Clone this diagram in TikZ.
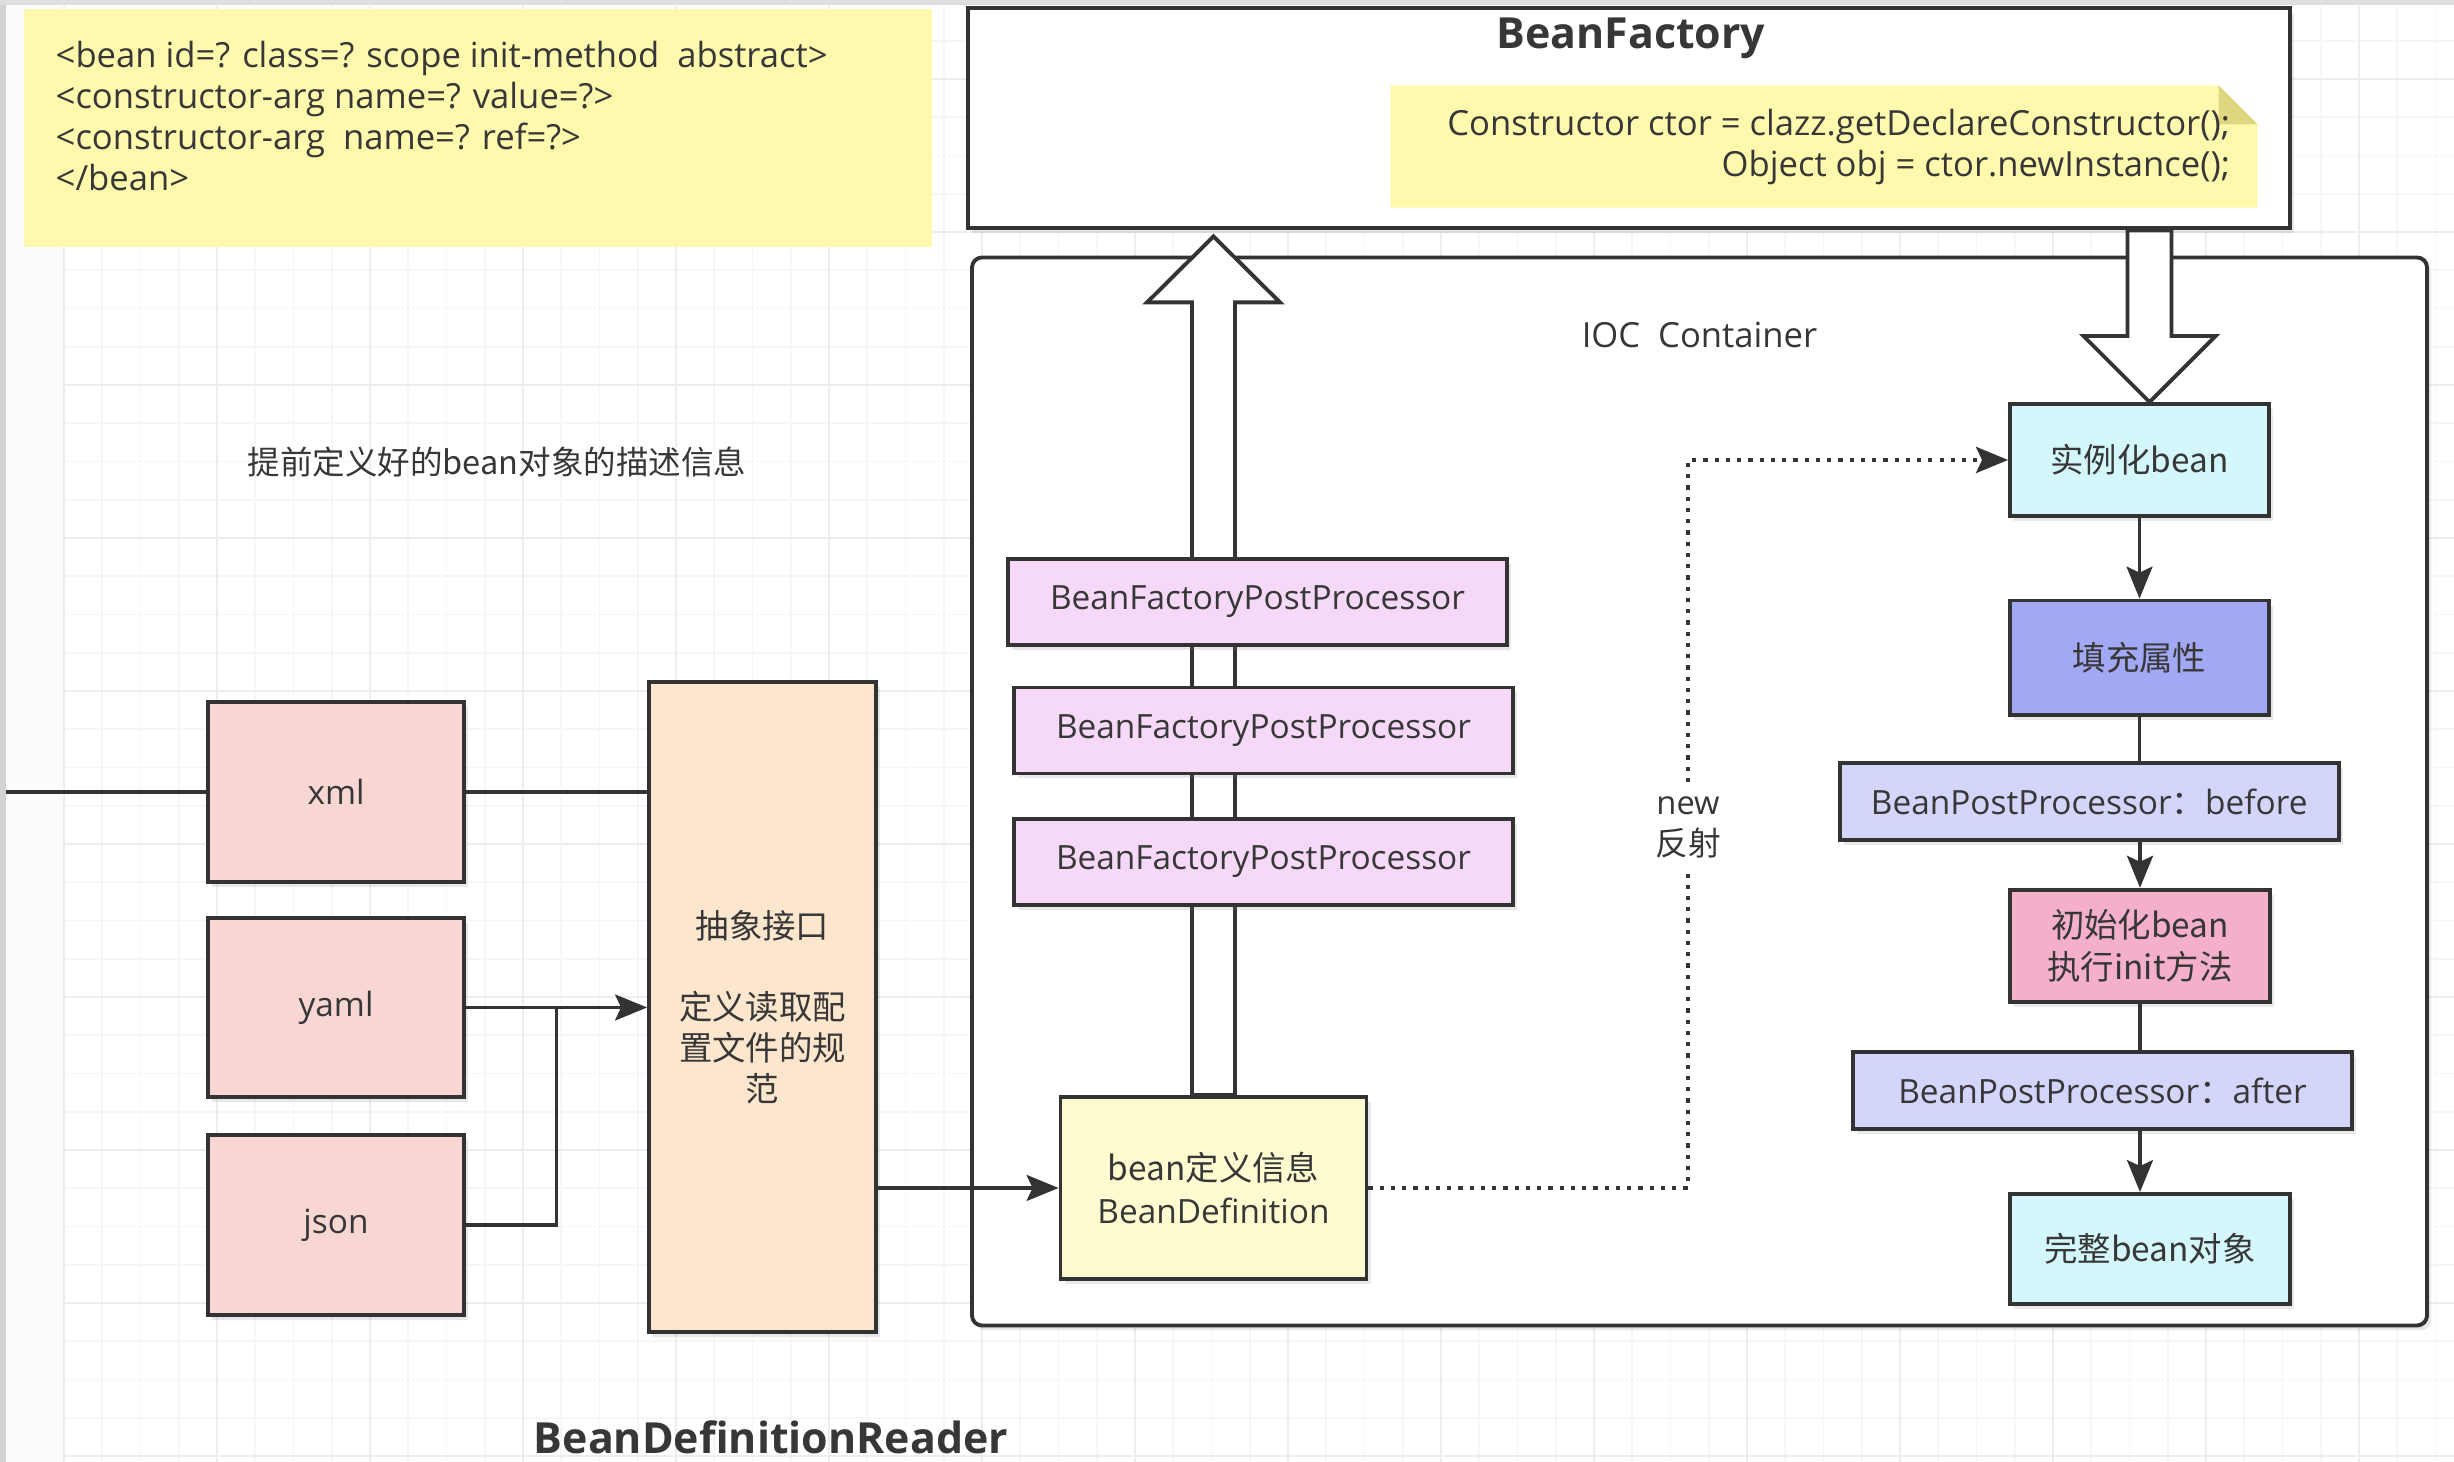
\documentclass[tikz,border=0pt]{standalone}
\usepackage{fontspec}
\setmainfont{Open Sans}
\newfontfamily\cjk{Noto Sans CJK SC}
\usepackage{tikz}
\usetikzlibrary{calc, arrows.meta, shadows}

\definecolor{linegray}{RGB}{51,51,51}
\definecolor{txtgray}{RGB}{55,55,55}
\definecolor{noteyellow}{RGB}{255,249,174}
\definecolor{foldyellow}{RGB}{222,214,128}
\definecolor{srcpink}{RGB}{248,214,212}
\definecolor{readerpeach}{RGB}{252,230,206}
\definecolor{bfppviolet}{RGB}{246,216,249}
\definecolor{defyellow}{RGB}{255,251,208}
\definecolor{beancyan}{RGB}{212,247,251}
\definecolor{fillblue}{RGB}{163,168,245}
\definecolor{bpplilac}{RGB}{211,213,250}
\definecolor{initpink}{RGB}{244,176,203}

\begin{document}
\begin{tikzpicture}[
	box/.style={draw=linegray, line width=1.1pt, text=txtgray, align=center, inner sep=2pt,
		font=\fontsize{9.5}{12}\selectfont,
		drop shadow={shadow xshift=0.04cm, shadow yshift=-0.05cm, opacity=0.18}},
	zhbox/.style={box, font=\cjk\fontsize{9.5}{12}\selectfont},
	srcbox/.style={box, fill=srcpink, minimum width=2.555cm, minimum height=1.795cm},
	postbox/.style={box, fill=bfppviolet, minimum width=4.99cm, minimum height=0.86cm},
	bppbox/.style={box, fill=bpplilac, minimum width=4.99cm, minimum height=0.77cm},
	beanbox/.style={zhbox, fill=beancyan, minimum width=2.59cm, minimum height=1.12cm},
	container/.style={box, fill=white, rounded corners=0.1cm},
	link/.style={draw=linegray, line width=0.9pt},
	flow/.style={link, -{Stealth[length=3.2mm, width=2.6mm, inset=0.6mm]}},
	dotline/.style={draw=linegray, line width=1.2pt, dotted},
	hollow/.style={draw=linegray, line width=1.1pt, fill=white},
	notetext/.style={text=txtgray, inner sep=0pt, font=\fontsize{9.85}{11.6}\selectfont},
	heading/.style={text=txtgray, inner sep=0pt, font=\bfseries\fontsize{12.2}{14}\selectfont},
	gridminor/.style={draw=gray!7, line width=0.5pt},
	gridmajor/.style={draw=gray!14, line width=0.6pt}
]
	\useasboundingbox (0,0) rectangle (24.54,14.62);
	\clip (0,0) rectangle (24.54,14.62);

	% Drawing the canvas with its grid
	\fill[gray!2] (0,0) rectangle (0.64,14.62);
	\fill[gray!35] (0,0) rectangle (0.06,14.62);
	\fill[gray!25] (0,14.57) rectangle (24.54,14.62);
	\begin{scope}[shift={(0.64,0.06)}]
		\draw[gridminor, step=0.3825] (0,-0.06) grid (23.9,14.5);
		\draw[gridmajor, step=1.53] (0,-0.06) grid (23.9,14.5);
	\end{scope}

	% Drawing the xml description note
	\node[fill=noteyellow, inner sep=0pt, minimum width=9.08cm, minimum height=2.38cm, anchor=north west] (xmlnote) at (0.23,14.54) {};
	\node[notetext, align=left, anchor=north west] (xmltext) at ($(xmlnote.north west)+(0.32,-0.33)$)
		{<bean id=? class=? scope init-method\ \ abstract>\\<constructor-arg name=? value=?>\\<constructor-arg\ \ name=? ref=?>\\</bean>};
	\node[text=txtgray, font=\cjk\fontsize{9.25}{11}\selectfont] (desc) at (4.97,10.00) {提前定义好的bean对象的描述信息};

	% Drawing the bean factory with its note
	\node[box, fill=white, line width=1.4pt, minimum width=13.22cm, minimum height=2.20cm] (bf) at (16.29,13.44) {};
	\node[heading, anchor=base] (bftitle) at ($(bf.north)+(0.02,-0.43)$) {BeanFactory};
	\node[inner sep=0pt, minimum width=8.66cm, minimum height=1.21cm] (ctornote) at (18.24,13.155) {};
	\fill[noteyellow] (ctornote.south west) -- (ctornote.north west) -- ($(ctornote.north east)+(-0.39,0)$)
		-- ($(ctornote.north east)+(0,-0.39)$) -- (ctornote.south east) -- cycle;
	\fill[foldyellow] ($(ctornote.north east)+(-0.39,0)$) -- ($(ctornote.north east)+(-0.39,-0.39)$) -- ($(ctornote.north east)+(0,-0.39)$) -- cycle;
	\node[notetext, align=right, anchor=north east] (ctortext) at ($(ctornote.north east)+(-0.27,-0.23)$)
		{Constructor ctor = clazz.getDeclareConstructor();\\Object obj = ctor.newInstance();};

	% Drawing the IOC container
	\node[container, minimum width=14.55cm, minimum height=10.68cm] (ioc) at (16.995,6.705) {};
	\node[notetext] (ioclabel) at ($(ioc.north)+(0,-0.79)$) {IOC\ \ Container};

	% Drawing the right column nodes
	\node[beanbox] (inst) at (21.395,10.02) {实例化bean};
	\node[zhbox, fill=fillblue, minimum width=2.59cm, minimum height=1.145cm] (populate) at (21.395,8.042) {填充属性};
	\node[bppbox] (before) at (20.892,6.605) {BeanPostProcessor{\cjk ：}before};
	\node[zhbox, fill=initpink, minimum width=2.60cm, minimum height=1.125cm] (init) at (21.40,5.16) {初始化bean\\执行init方法};
	\node[bppbox] (after) at (21.025,3.715) {BeanPostProcessor{\cjk ：}after};
	\node[beanbox, minimum width=2.80cm, minimum height=1.10cm] (whole) at (21.50,2.13) {完整bean对象};

	% Drawing the bean definition and the hollow arrows
	\node[box, fill=defyellow, minimum width=3.06cm, minimum height=1.82cm] (bd) at (12.135,2.74) {{\cjk bean定义信息}\\BeanDefinition};
	\coordinate (uptip) at ($(bd.north |- bf.south)+(0,-0.06)$);
	\draw[hollow] ($(bd.north)+(-0.215,0)$) |- ($(uptip)+(-0.665,-0.66)$) -- (uptip)
		-- ($(uptip)+(0.665,-0.66)$) -| ($(bd.north)+(0.215,0)$) -- cycle;
	\coordinate (downtip) at ($(inst.north)+(0.1,0)$);
	\coordinate (downtop) at (downtip |- bf.south);
	\draw[hollow] ($(downtop)+(-0.22,0)$) |- ($(downtip)+(-0.66,0.66)$) -- (downtip)
		-- ($(downtip)+(0.66,0.66)$) -| ($(downtop)+(0.22,0)$) -- cycle;

	% Drawing the post processors over the arrow
	\node[postbox] (bfpp1) at (12.575,8.60) {BeanFactoryPostProcessor};
	\node[postbox] (bfpp2) at (12.635,7.315) {BeanFactoryPostProcessor};
	\node[postbox] (bfpp3) at (12.635,6.00) {BeanFactoryPostProcessor};

	% Drawing the sources and the reader
	\node[srcbox] (xml) at (3.36,6.70) {xml};
	\node[srcbox] (yaml) at (3.36,4.545) {yaml};
	\node[srcbox] (json) at (3.36,2.37) {json};
	\node[zhbox, fill=readerpeach, minimum width=2.27cm, minimum height=6.50cm, font=\cjk\fontsize{9.5}{11.6}\selectfont] (reader) at (7.625,4.55)
		{抽象接口\\[11.6pt]定义读取配\\置文件的规\\范};
	\node[heading, anchor=base] (readertitle) at (7.71,0.08) {BeanDefinitionReader};

	% Drawing the connectors on the left
	\coordinate (xmlstart) at (0.06,6.70);
	\draw[link] (xmlstart) -- (xml.west);
	\draw[link] (xml.east) -- (xml.east -| reader.west);
	\draw[flow] (yaml.east) -- (yaml.east -| reader.west);
	\coordinate (joint) at ($(yaml.east)!0.5!(yaml.east -| reader.west)$);
	\draw[link] (json.east) -| (joint);
	\draw[flow] (reader.east |- bd.west) -- (bd.west);

	% Drawing the dotted reflection path
	\node[fill=white, text=txtgray, align=center, inner xsep=2pt, inner ysep=4pt, font=\fontsize{9.3}{11.6}\selectfont] (reflect) at (16.88,6.345) {new\\{\cjk 反射}};
	\draw[dotline] (bd.east) -| (reflect.south);
	\draw[dotline, -{Stealth[length=3.2mm, width=2.6mm, inset=0.6mm]}] (reflect.north) |- (inst.west);

	% Drawing the bean life cycle connectors
	\draw[flow] (inst) -- (populate);
	\draw[link] (populate.south) -- (populate.south |- before.north);
	\draw[flow] (before.south -| init.north) -- (init.north);
	\draw[link] (init.south) -- (init.south |- after.north);
	\draw[flow] (after.south -| init.south) -- (whole.north -| init.south);
\end{tikzpicture}
\end{document}
